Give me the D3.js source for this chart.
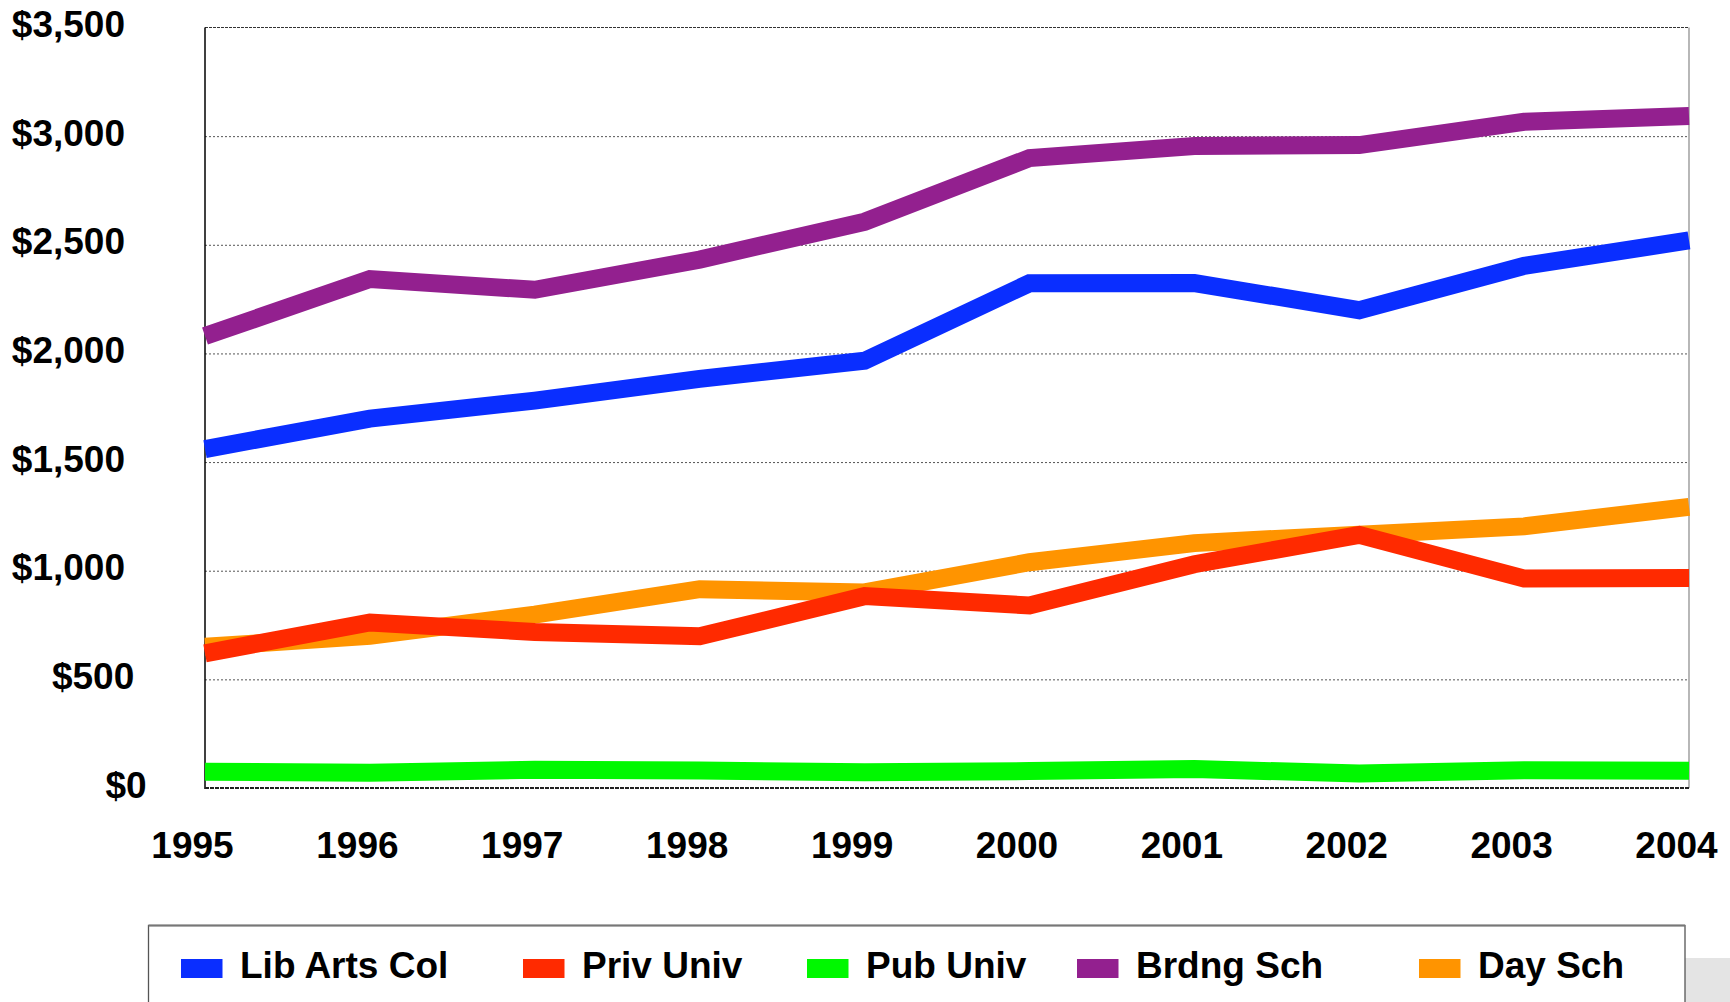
<!DOCTYPE html>
<html>
<head>
<meta charset="utf-8">
<script src="https://cdn.jsdelivr.net/npm/d3@7"></script>
<style>
  html, body { margin: 0; padding: 0; background: #ffffff; }
  svg { display: block; }
  text { font-family: "Liberation Sans", Arial, Helvetica, sans-serif; font-weight: bold; fill: #000; }
</style>
</head>
<body>
<svg id="chart" width="1730" height="1002"></svg>
<script>
// ---- data ----
const years = ["1995","1996","1997","1998","1999","2000","2001","2002","2003","2004"];
const yTicks = [0, 500, 1000, 1500, 2000, 2500, 3000, 3500];
const seriesNames = ["Lib Arts Col", "Priv Univ", "Pub Univ", "Brdng Sch", "Day Sch"];
const seriesColors = ["#0A2EFF", "#FF2A00", "#00F800", "#93208F", "#FF9400"];
const libArtsCol = [1560, 1700, 1783, 1883, 1966, 2323, 2324, 2199, 2403, 2520];
const privUniv   = [620, 762, 718, 698, 883, 840, 1030, 1165, 964, 966];
const pubUniv    = [75, 70, 84, 80, 73, 78, 87, 67, 82, 79];
const brdngSch   = [2080, 2342, 2293, 2432, 2606, 2899, 2955, 2959, 3066, 3093];
const daySch     = [650, 700, 798, 915, 900, 1039, 1127, 1166, 1204, 1294];
const seriesValues = [libArtsCol, privUniv, pubUniv, brdngSch, daySch];

// ---- layout ----
const plot = { left: 205, right: 1689, top: 27.5, bottom: 788 };
const legendBox = { x: 148.5, y: 925.5, w: 1536.5, h: 100 };
const legendItemX = [181, 523, 807, 1077, 1419];
const FS = 37;

const svg = d3.select("#chart");

const x = d3.scalePoint().domain(years).range([plot.left, plot.right]);
const y = d3.scaleLinear().domain([0, 3500]).range([plot.bottom, plot.top]);

// gridlines
const grid = svg.append("g")
  .attr("transform", `translate(${plot.left},0)`)
  .call(d3.axisLeft(y).tickValues(yTicks.filter(d => d > 0 && d < 3500))
        .tickSize(-(plot.right - plot.left)).tickFormat(""));
grid.select(".domain").remove();
grid.selectAll("line")
  .attr("stroke", "#555")
  .attr("stroke-width", 1)
  .attr("stroke-dasharray", "2,2");

// plot frame
svg.append("line").attr("x1", plot.left).attr("x2", plot.right).attr("y1", plot.top).attr("y2", plot.top)
  .attr("stroke", "#333").attr("stroke-width", 1).attr("stroke-dasharray", "3,1");
svg.append("line").attr("x1", plot.right).attr("x2", plot.right).attr("y1", plot.top).attr("y2", plot.bottom)
  .attr("stroke", "#888").attr("stroke-width", 1.2);
svg.append("line").attr("x1", plot.left).attr("x2", plot.left).attr("y1", plot.top).attr("y2", plot.bottom + 1)
  .attr("stroke", "#000").attr("stroke-width", 1.5);

// y axis labels
const yAxis = svg.append("g")
  .call(d3.axisLeft(y).tickValues(yTicks).tickSize(0)
        .tickFormat(d => "$" + d3.format(",")(d)));
yAxis.select(".domain").remove();
let widest = 0;
yAxis.selectAll("text")
  .attr("font-size", FS)
  .attr("text-anchor", "end")
  .attr("dy", 0)
  .attr("y", 9)
  .each(function() { widest = Math.max(widest, this.getComputedTextLength()); })
  .each(function() {
    const w = this.getComputedTextLength();
    d3.select(this).attr("x", 125 + (widest - w) * 0.3);
  });

// x axis labels
const xAxis = svg.append("g")
  .attr("transform", `translate(0,${plot.bottom})`)
  .call(d3.axisBottom(x).tickSize(0));
xAxis.select(".domain").remove();
xAxis.selectAll("text")
  .attr("font-size", FS)
  .attr("dy", 0)
  .attr("y", 70)
  .attr("x", -13);

// bottom axis line
svg.append("line").attr("x1", plot.left).attr("x2", plot.right).attr("y1", plot.bottom).attr("y2", plot.bottom)
  .attr("stroke", "#222").attr("stroke-width", 2).attr("stroke-dasharray", "4,1");

// series lines (drawn in reverse order so earlier series are on top)
const line = d3.line().x((d, i) => x(years[i])).y(d => y(d));
const order = [4, 3, 2, 1, 0];
svg.append("g").selectAll("path")
  .data(order)
  .join("path")
  .attr("d", k => line(seriesValues[k]))
  .attr("fill", "none")
  .attr("stroke", k => seriesColors[k])
  .attr("stroke-width", 18)
  .attr("stroke-linejoin", "miter")
  .attr("stroke-linecap", "butt");

// legend shadow + box
svg.append("rect").attr("x", legendBox.x + legendBox.w).attr("y", 958)
  .attr("width", 1730 - (legendBox.x + legendBox.w)).attr("height", 1002 - 958)
  .attr("fill", "#e4e4e4");
svg.append("rect").attr("x", legendBox.x).attr("y", legendBox.y)
  .attr("width", legendBox.w).attr("height", legendBox.h)
  .attr("fill", "#fff").attr("stroke", "#555").attr("stroke-width", 1.3);
svg.append("line").attr("x1", legendBox.x).attr("x2", legendBox.x + legendBox.w)
  .attr("y1", legendBox.y).attr("y2", legendBox.y)
  .attr("stroke", "#777").attr("stroke-width", 2);

const legend = svg.append("g").selectAll("g")
  .data(seriesNames)
  .join("g")
  .attr("transform", (d, i) => `translate(${legendItemX[i]},0)`);
legend.append("rect")
  .attr("x", 0).attr("y", 959).attr("width", 41.5).attr("height", 19)
  .attr("fill", (d, i) => seriesColors[i]);
legend.append("text")
  .attr("x", 59).attr("y", 977.5)
  .attr("font-size", FS)
  .text(d => d);
</script>
</body>
</html>
